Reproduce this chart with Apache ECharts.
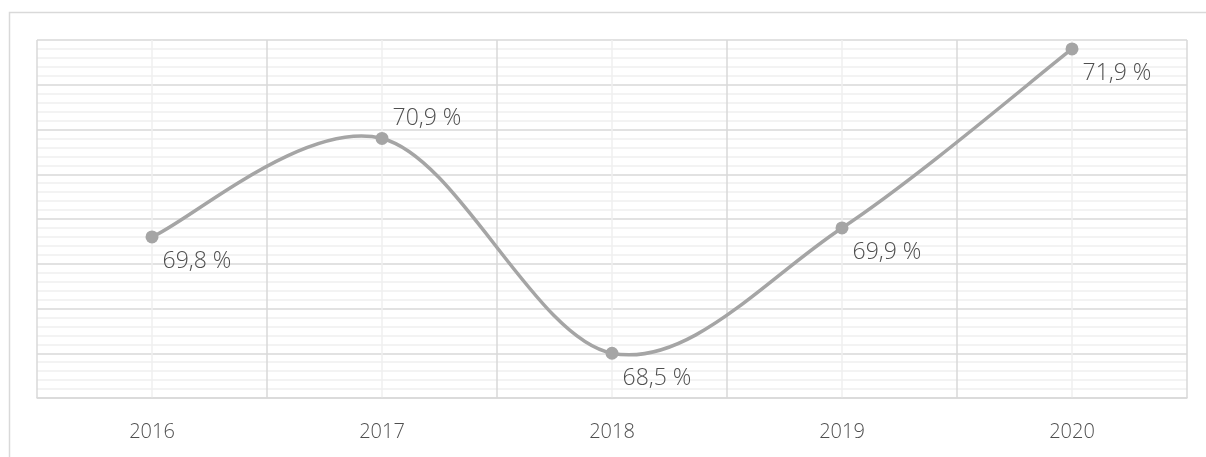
<!DOCTYPE html>
<html>
<head>
<meta charset="utf-8">
<script src="https://cdn.jsdelivr.net/npm/echarts@6/dist/echarts.min.js"></script>
<style>
  html, body { margin: 0; padding: 0; background: #fff; }
  #chart { width: 1206px; height: 457px; }
</style>
</head>
<body>
<div id="chart"></div>
<script>
// Yearly rate, in percent
const years = ['2016', '2017', '2018', '2019', '2020'];
const rates = [69.8, 70.9, 68.5, 69.9, 71.9];

const yMin = 68;
const yMax = 72;
const yStep = 0.5;

const labelFont = "'Open Sans', 'Noto Sans', sans-serif";
const majorGrid = '#d9d9d9';
const minorGrid = '#efefef';
const lineColor = '#a5a5a5';
const textColor = '#4f4f4f';

function fmt(v) {
  return v.toFixed(1).replace('.', ',') + ' %';
}

// Smooth curve through all points (cardinal spline, Bezier control points at 1/6 of neighbour span)
function renderCurve(params, api) {
  if (params.dataIndex !== 0) return null;
  const pts = rates.map((v, i) => api.coord([i, v]));
  const n = pts.length;
  const children = [];
  for (let i = 0; i < n - 1; i++) {
    const p0 = pts[Math.max(i - 1, 0)];
    const p1 = pts[i];
    const p2 = pts[i + 1];
    const p3 = pts[Math.min(i + 2, n - 1)];
    children.push({
      type: 'bezierCurve',
      shape: {
        x1: p1[0], y1: p1[1],
        x2: p2[0], y2: p2[1],
        cpx1: p1[0] + (p2[0] - p0[0]) / 6,
        cpy1: p1[1] + (p2[1] - p0[1]) / 6,
        cpx2: p2[0] - (p3[0] - p1[0]) / 6,
        cpy2: p2[1] - (p3[1] - p1[1]) / 6
      },
      style: { fill: null, stroke: lineColor, lineWidth: 3.5, lineCap: 'round' }
    });
  }
  return { type: 'group', children };
}

const chart = echarts.init(document.getElementById('chart'), null, { renderer: 'canvas' });

chart.setOption({
  animation: false,
  backgroundColor: '#fff',
  graphic: [{
    type: 'rect',
    left: 7, top: 10,
    shape: { width: 1210, height: 460 },
    style: { fill: 'none', stroke: majorGrid, lineWidth: 1.5 },
    silent: true,
    z: -10
  }],
  grid: { left: 37, top: 40, right: 19, bottom: 59, containLabel: false },
  xAxis: [
    {
      type: 'category',
      data: years,
      boundaryGap: true,
      axisLine: { show: true, lineStyle: { color: majorGrid, width: 1.5 } },
      axisTick: { show: false },
      splitLine: { show: false },
      axisLabel: { color: textColor, fontSize: 20, fontFamily: labelFont, fontWeight: 300, margin: 24 }
    },
    {
      // lattice of columns: boundaries between years and a lighter line through each year
      type: 'value',
      position: 'bottom',
      min: 0, max: years.length, interval: 1,
      axisLine: { show: false },
      axisTick: { show: false },
      axisLabel: { show: false },
      splitLine: { show: true, lineStyle: { color: majorGrid, width: 1.5 } },
      minorTick: { show: false, splitNumber: 2 },
      minorSplitLine: { show: true, lineStyle: { color: minorGrid, width: 1.5 } }
    }
  ],
  yAxis: {
    type: 'value',
    min: yMin, max: yMax, interval: yStep,
    axisLine: { show: false },
    axisTick: { show: false },
    axisLabel: { show: false },
    splitLine: { show: true, lineStyle: { color: majorGrid, width: 1.5 } },
    minorTick: { show: false, splitNumber: 5 },
    minorSplitLine: { show: true, lineStyle: { color: minorGrid, width: 1.5 } }
  },
  series: [
    {
      type: 'custom',
      xAxisIndex: 0,
      renderItem: renderCurve,
      data: rates.map((v, i) => [i, v]),
      encode: { x: 0, y: 1 },
      clip: false,
      silent: true,
      z: 4
    },
    {
      type: 'line',
      xAxisIndex: 0,
      data: rates.map((v, i) => ({
        value: v,
        label: { offset: [0, i === 1 ? -20 : 25] }
      })),
      symbol: 'circle',
      symbolSize: 13,
      lineStyle: { opacity: 0 },
      itemStyle: { color: lineColor },
      label: {
        show: true,
        position: 'right',
        distance: 4,
        color: textColor,
        fontSize: 23,
        fontFamily: labelFont,
        fontWeight: 300,
        formatter: p => fmt(p.value)
      },
      z: 5
    }
  ]
});
</script>
</body>
</html>
